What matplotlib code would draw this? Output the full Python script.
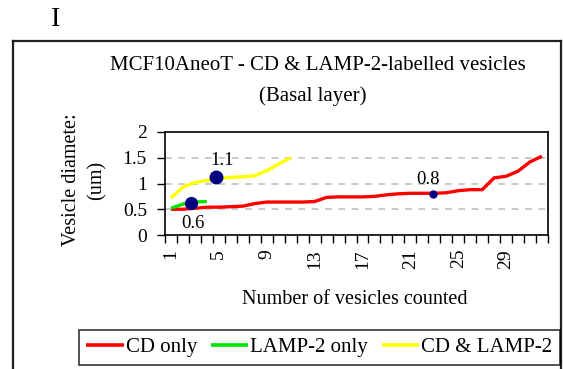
import matplotlib
matplotlib.use("Agg")
import matplotlib.pyplot as plt
from matplotlib.lines import Line2D
import numpy as np

plt.rcParams['font.family'] = ['Liberation Serif', 'DejaVu Serif']

# Vesicle diameters (um), sorted, one value per counted vesicle
cd_only = [0.50, 0.50, 0.52, 0.54, 0.54, 0.55, 0.56, 0.61, 0.64, 0.64,
           0.64, 0.64, 0.65, 0.73, 0.74, 0.74, 0.74, 0.75, 0.78, 0.80,
           0.81, 0.81, 0.81, 0.82, 0.86, 0.88, 0.88, 1.11, 1.14, 1.24,
           1.42, 1.53]
lamp2_only = [0.52, 0.60, 0.64, 0.65]
cd_lamp2 = [0.72, 0.93, 1.02, 1.06, 1.10, 1.12, 1.13, 1.15, 1.25, 1.38, 1.50]

series_names = ["CD only", "LAMP-2 only", "CD & LAMP-2"]
series_colors = ["#ff0000", "#00e600", "#ffff00"]

# Mean diameter of each group and where it sits along the count axis
mean_values = [0.80, 0.63, 1.12]
mean_positions = [22.9, 2.7, 4.8]
mean_sizes = [5, 8.5, 9]
label_offsets = [(-3.5, 10.5), (1, -15), (4, 12)]

y_ticks = [0, 0.5, 1, 1.5, 2]
n_cat = 32
x_tick_labels = list(range(1, n_cat + 1, 4))

W, H = 563, 369
fig = plt.figure(figsize=(W / 100, H / 100), dpi=100)


def fx(px):
    return px / W


def fy(py):
    return 1 - py / H


ax = fig.add_axes([fx(165), fy(235), fx(548) - fx(165), fy(132) - fy(235)])

for vals, color, name in zip([cd_only, lamp2_only, cd_lamp2], series_colors, series_names):
    x = np.arange(1, len(vals) + 1)
    ax.plot(x, vals, color=color, lw=2.4, label=name, solid_capstyle='butt', zorder=3)

for xv, yv, ms, off in zip(mean_positions, mean_values, mean_sizes, label_offsets):
    ax.plot([xv], [yv], 'o', color='#000080', ms=ms, mec='#000080', zorder=4)
    ax.annotate(f"{yv:.1f}", (xv, yv), xytext=off, textcoords='offset points',
                ha='center', va='center', fontsize=13.5, color='black', zorder=5)

ax.set_xlim(0.5, n_cat + 0.5)
ax.set_ylim(0, 2)
ax.set_yticks(y_ticks)
ax.set_yticklabels([f"{v:g}" for v in y_ticks])
ax.set_xticks(x_tick_labels)
ax.set_xticklabels([str(v) for v in x_tick_labels], rotation=90)
ax.set_xticks(np.arange(0.5, n_cat + 1, 1), minor=True)
ax.tick_params(axis='x', which='major', length=0, pad=10, labelsize=14)
ax.tick_params(axis='x', which='minor', length=6, width=1, direction='out')
ax.tick_params(axis='y', length=6, width=1, direction='out', labelsize=14, pad=7)

for gy in [0.5, 1, 1.5]:
    ax.axhline(gy, color='#c0c0c0', lw=1.2, ls=(0, (4, 4)), zorder=1)

for s in ax.spines.values():
    s.set_color('black')
    s.set_linewidth(1.2)

# Axis titles
fig.text(fx(355), fy(300), "Number of vesicles counted", ha='center', va='center', fontsize=14.5)
fig.text(fx(72), fy(180), "Vesicle diamete:", rotation=90, ha='center', va='center', fontsize=14.5)
fig.text(fx(97), fy(180), "(um)", rotation=90, ha='center', va='center', fontsize=14.5)

# Chart title
fig.text(fx(318), fy(66), "MCF10AneoT - CD & LAMP-2-labelled vesicles",
         ha='center', va='center', fontsize=15)
fig.text(fx(313), fy(96), "(Basal layer)", ha='center', va='center', fontsize=15)

# Panel letter
fig.text(fx(56), fy(20), "I", ha='center', va='center', fontsize=20)

# Outer chart frame (open at the bottom edge of the image)
frame_kw = dict(color='#202020', lw=1.6, transform=fig.transFigure, clip_on=False)
fig.add_artist(Line2D([fx(12.5), fx(12.5)], [fy(40.5), fy(372)], **frame_kw))
fig.add_artist(Line2D([fx(12.5), fx(561)], [fy(40.5), fy(40.5)], **frame_kw))
fig.add_artist(Line2D([fx(561), fx(561)], [fy(40.5), fy(372)], **frame_kw))

# Legend
handles, labels = ax.get_legend_handles_labels()
leg = fig.legend(handles, labels, loc='center left', ncol=3,
                 bbox_to_anchor=(fx(79), fy(347.5)), frameon=True,
                 fancybox=False, edgecolor='black', fontsize=15,
                 handlelength=1.8, handletextpad=0.1, columnspacing=0.65,
                 borderpad=0.35, borderaxespad=0)
leg.get_frame().set_linewidth(1.2)
for lh in leg.get_lines():
    lh.set_linewidth(2.6)

fig.savefig("out.png", dpi=100)
